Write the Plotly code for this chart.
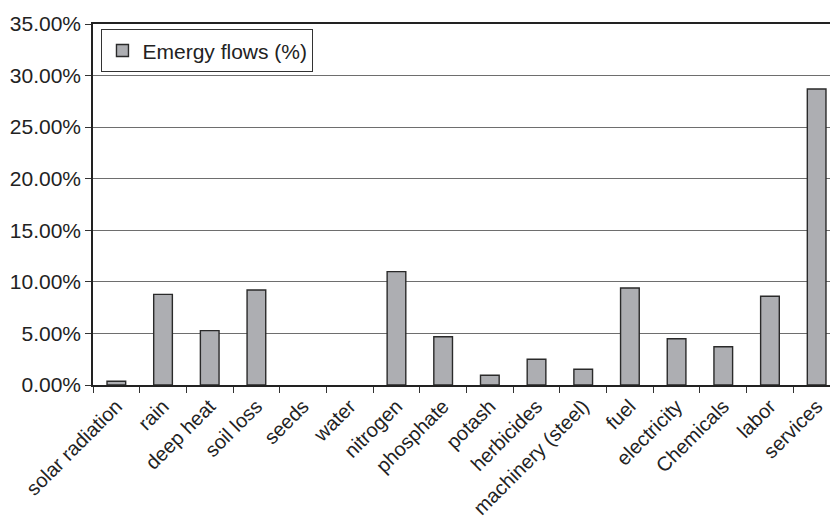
import plotly.graph_objects as go

# Share of total emergy supplied by each input (percent)
categories = [
    "solar radiation", "rain", "deep heat", "soil loss", "seeds", "water",
    "nitrogen", "phosphate", "potash", "herbicides", "machinery (steel)",
    "fuel", "electricity", "Chemicals", "labor", "services",
]
emergy_share = [
    0.36, 8.79, 5.27, 9.21, 0.0, 0.0,
    10.99, 4.68, 0.94, 2.49, 1.52,
    9.41, 4.49, 3.71, 8.60, 28.70,
]
series_name = "Emergy flows (%)"
y_ticks = [0, 5, 10, 15, 20, 25, 30, 35]
y_tick_labels = [f"{v:.2f}%" for v in y_ticks]

FONT = "Liberation Sans, Arial, sans-serif"
INK = "#222222"

# no outline on empty bars so zero inputs leave no mark
outline_widths = [1.4 if v > 0 else 0 for v in emergy_share]

fig = go.Figure(
    go.Bar(
        x=categories,
        y=emergy_share,
        name=series_name,
        marker=dict(color="#ADAEB2", line=dict(color="#2a2a2a", width=outline_widths)),
        showlegend=True,
    )
)

fig.update_layout(
    width=830,
    height=527,
    margin=dict(l=93, r=0, t=24, b=142),
    paper_bgcolor="white",
    plot_bgcolor="white",
    bargap=0.6,
    font=dict(family=FONT, size=20, color=INK),
    showlegend=True,
    legend=dict(
        x=0.0115,
        y=0.985,
        xanchor="left",
        yanchor="top",
        bgcolor="white",
        bordercolor="#333333",
        borderwidth=1,
        font=dict(family=FONT, size=21, color=INK),
        itemwidth=30,
    ),
)

fig.update_xaxes(
    type="category",
    range=[-0.5, 15.286],
    tickangle=-45,
    tickson="boundaries",
    ticks="outside",
    ticklen=6,
    tickcolor="#333333",
    showline=True,
    linecolor="#222222",
    linewidth=1.5,
    mirror=True,
    showgrid=False,
    tickfont=dict(family=FONT, size=20, color=INK),
)

fig.update_yaxes(
    range=[0, 35],
    tickmode="array",
    tickvals=y_ticks,
    ticktext=y_tick_labels,
    ticks="outside",
    ticklen=6,
    tickcolor="#333333",
    showline=True,
    linecolor="#222222",
    linewidth=1.5,
    showgrid=True,
    gridcolor="#6e6e6e",
    gridwidth=1.2,
    zeroline=False,
    tickfont=dict(family=FONT, size=21, color=INK),
)

fig.write_html("out.html")
